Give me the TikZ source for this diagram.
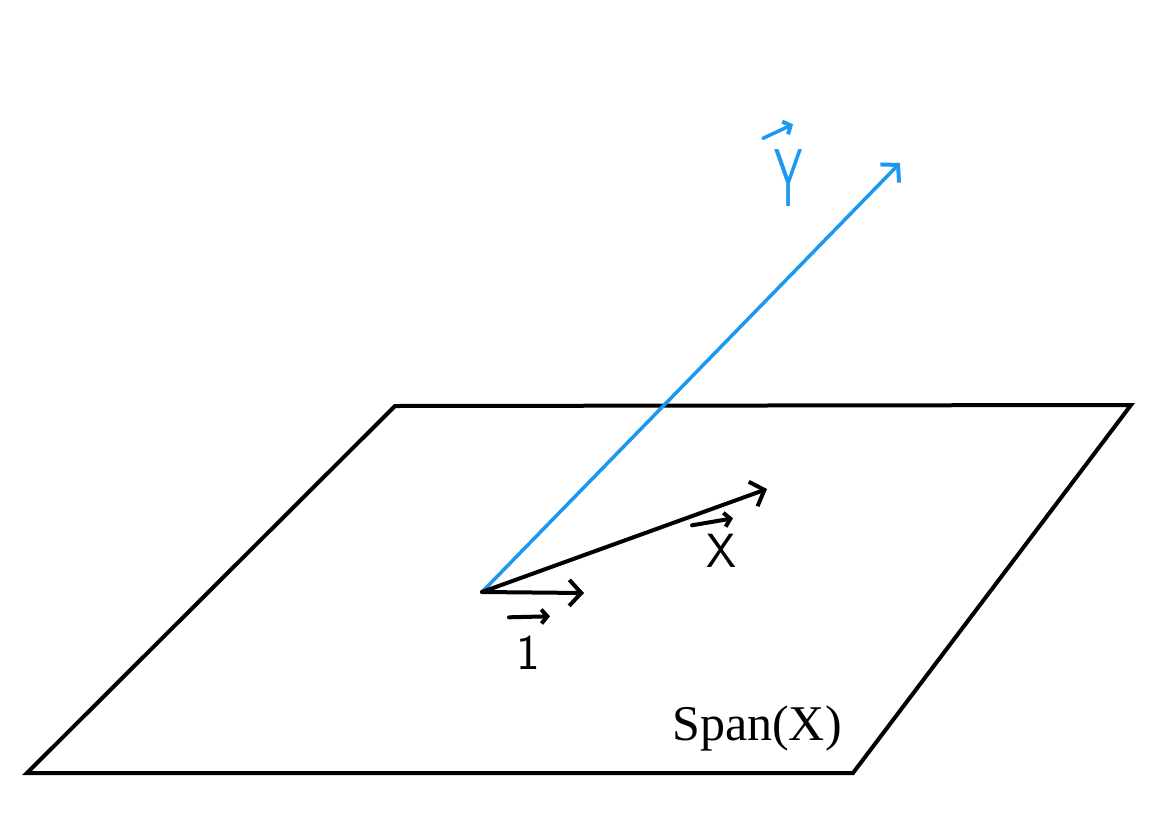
\documentclass[tikz,border=0pt]{standalone}
\usepackage{fontspec}
\newfontfamily\timesfont{Liberation Serif}
\usetikzlibrary{arrows.meta}
\definecolor{yblue}{RGB}{28,152,240}
\begin{document}
\begin{tikzpicture}[x=1pt,y=-1pt,
  plane/.style={draw=black,line width=4pt,line join=miter},
  vecline/.style={line width=4pt,line cap=round,-{Straight Barb[length=12pt,width=26pt,line width=4pt]}},
  markarrow/.style={line width=4pt,line cap=round,-{Straight Barb[length=6pt,width=14pt,line width=4pt]}},
  hand/.style={font=\fontsize{48}{52}\selectfont\sffamily,inner sep=0pt,text depth=0pt},
  lbl/.style={font=\fontsize{50}{54}\selectfont\timesfont,inner sep=0pt}]
\useasboundingbox (0,0) rectangle (1165,833);
\coordinate (p1) at (395,406);
\coordinate (p2) at (1131,405);
\coordinate (p3) at (853,773);
\coordinate (p4) at (27,773);
\draw[plane] (p1) -- (p2) -- (p3) -- (p4) -- cycle;
\coordinate (O) at (482,592);
\coordinate (Ytip) at (900,163);
\coordinate (Xtip) at (767,489);
\coordinate (Itip) at (584,593);
\draw[vecline,yblue,line width=3.5pt] (O) -- (Ytip);
\draw[vecline] (O) -- (Xtip);
\draw[vecline] (O) -- (Itip);
\node[lbl,anchor=base] (span) at (757,740) {Span(X)};
% hand-written labels with vector arrows
\node[hand,yblue,text height=57pt,font=\fontsize{82}{86}\selectfont\sffamily,xscale=0.55] (ylab) at (789,178) {Y};
\draw[markarrow,yblue,line width=3.5pt] ([shift={(-26,-11)}]ylab.north) -- ([shift={(4,-25)}]ylab.north);
\node[hand,text height=33pt] (xlab) at (721,551) {X};
\draw[markarrow] ([shift={(-29,-9)}]xlab.north) -- ([shift={(12,-16)}]xlab.north);
\node[hand,text height=33pt,font=\fontsize{50}{54}\selectfont\sffamily] (ilab) at (528,653) {1};
\draw[markarrow] ([shift={(-19,-19)}]ilab.north) -- ([shift={(22,-20)}]ilab.north);
\end{tikzpicture}
\end{document}
